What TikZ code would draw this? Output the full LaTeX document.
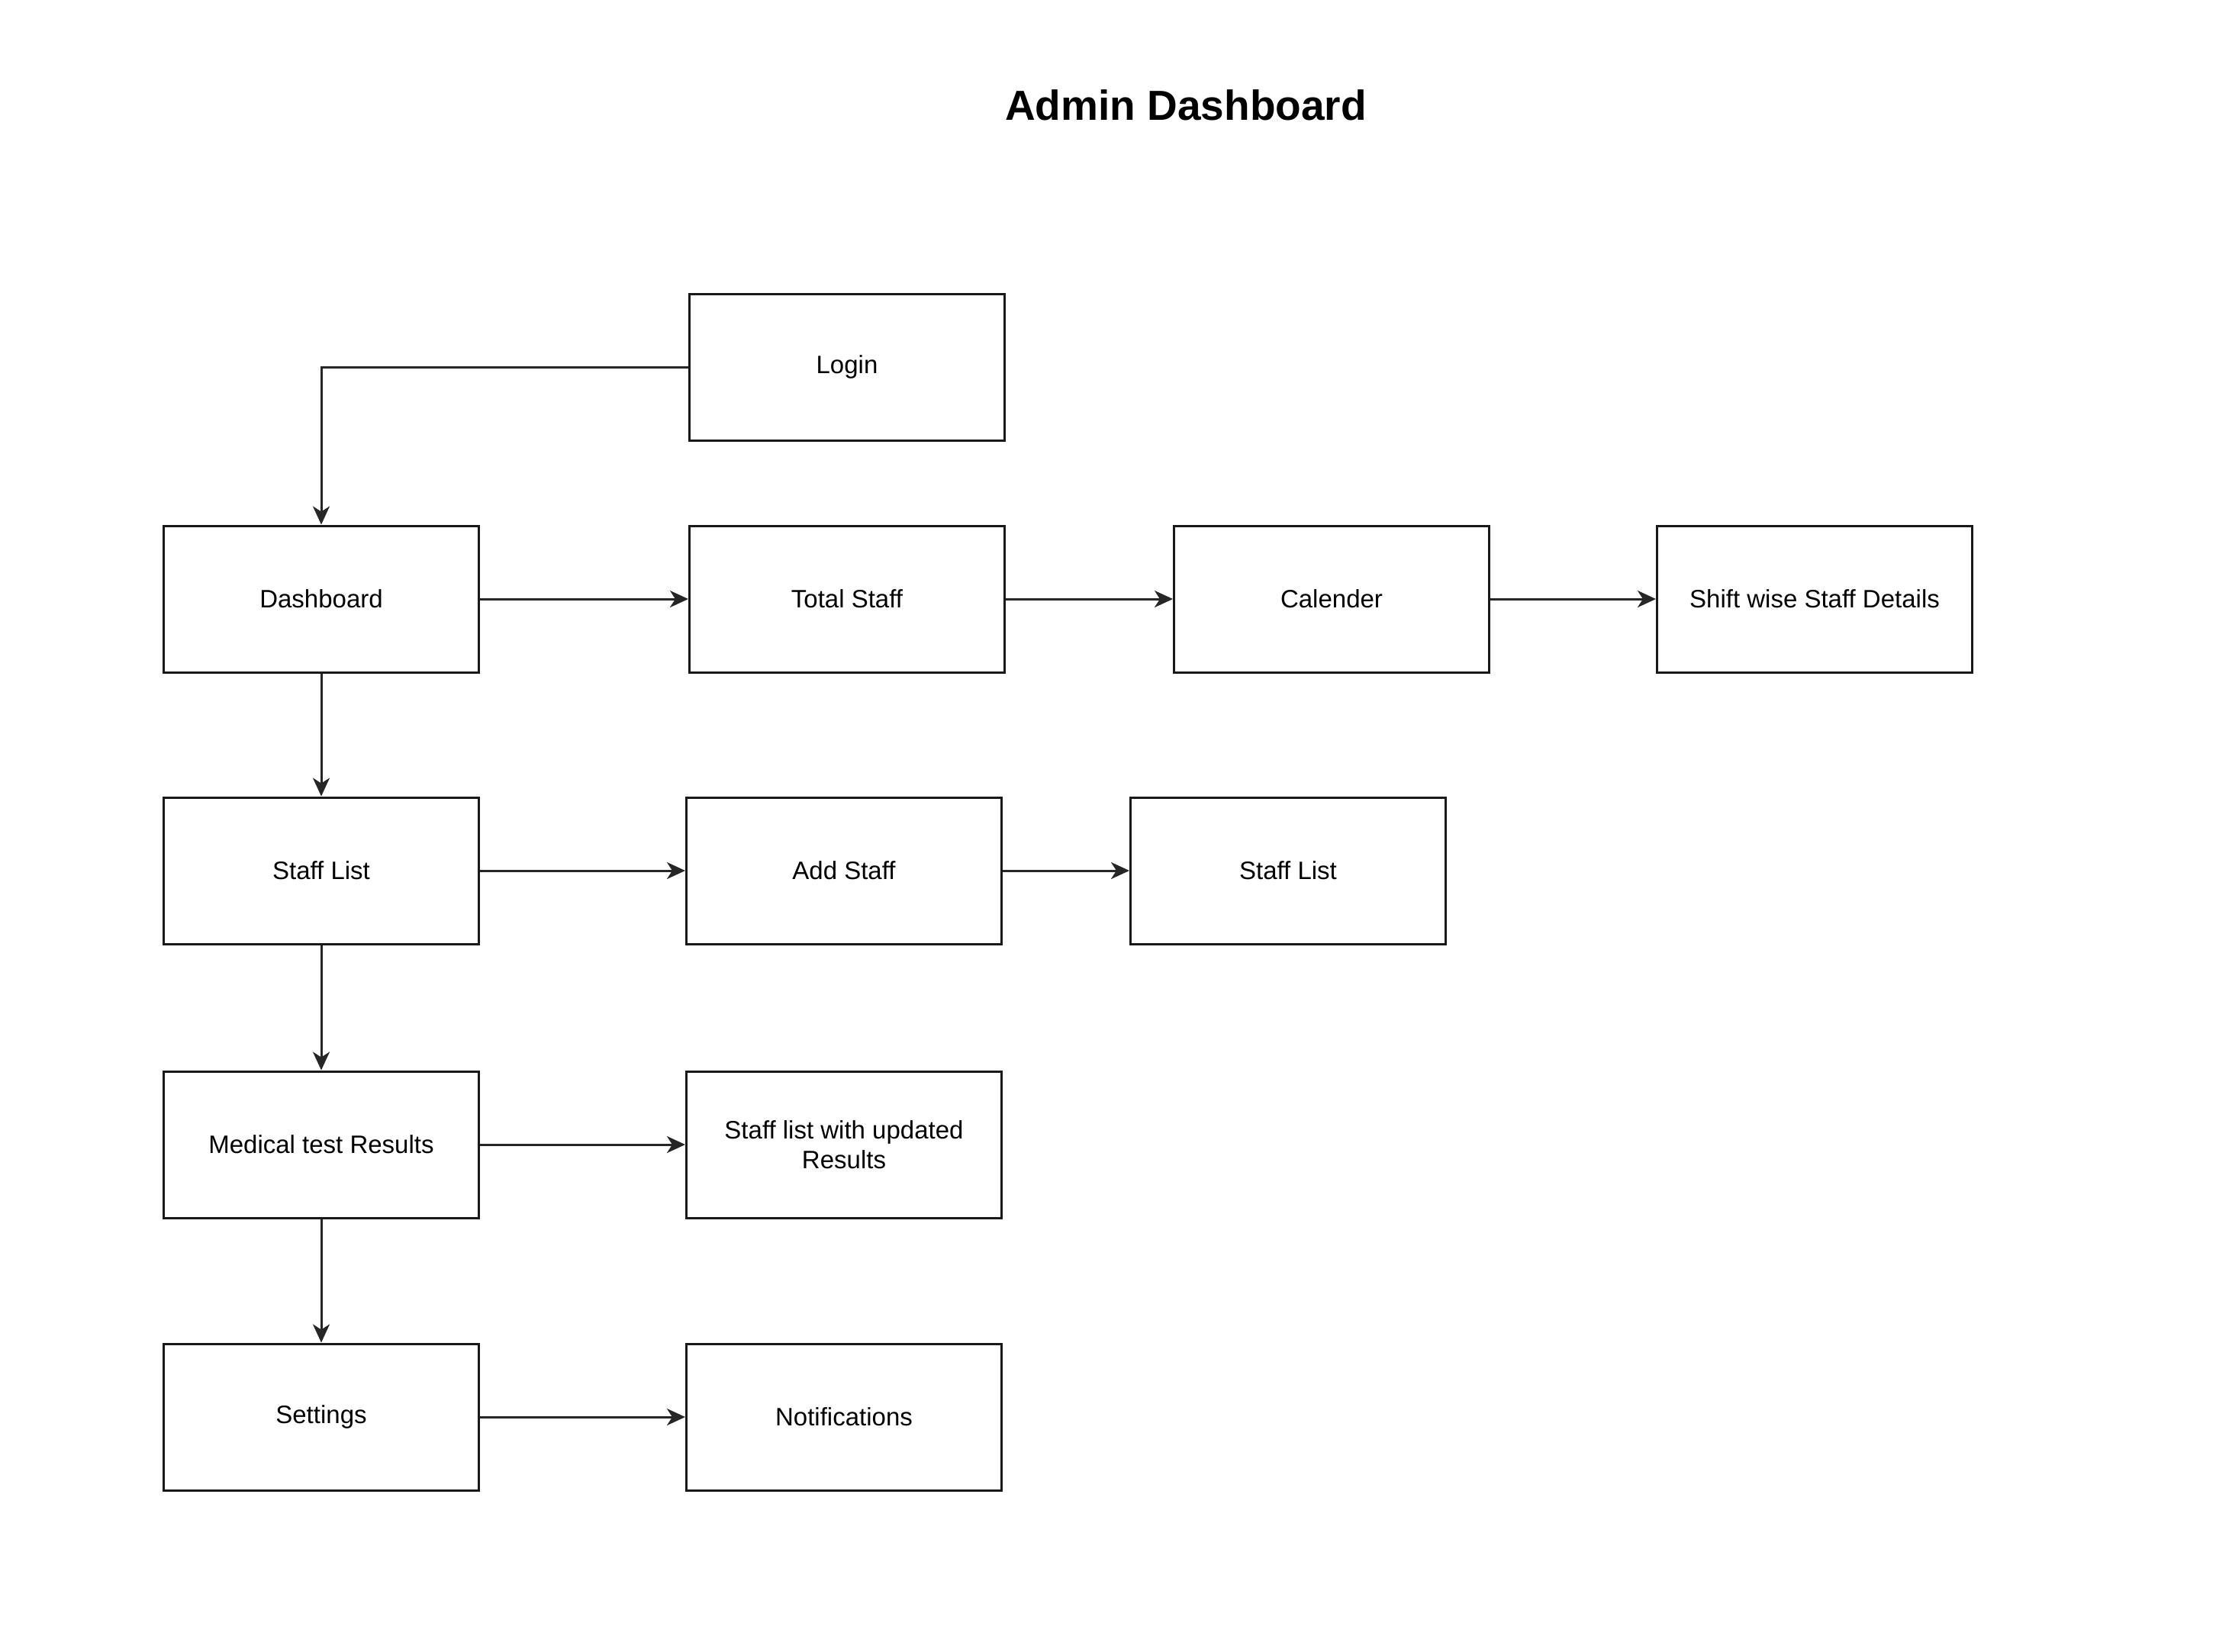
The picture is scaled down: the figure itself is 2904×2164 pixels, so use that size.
\documentclass[tikz,border=0pt]{standalone}
\usepackage{fontspec}
\setmainfont{Liberation Sans}
\usetikzlibrary{arrows.meta}
\begin{document}
\begin{tikzpicture}[x=1pt,y=-1pt,
  box/.style={draw=black!90,line width=3pt,minimum width=413pt,minimum height=192pt,inner sep=0pt,align=center,font=\fontsize{33}{39}\selectfont},
  conn/.style={line width=3pt,draw=black!85,-{Stealth[length=24pt,width=22pt,inset=7pt]}}]
\useasboundingbox (0,0) rectangle (2904,2164);
\node[font=\fontsize{55}{66}\selectfont\bfseries] (title) at (1554,138) {Admin Dashboard};
\node[box] (login) at (1110,481) {Login};
\node[box] (dash) at (421,785) {Dashboard};
\node[box] (total) at (1110,785) {Total Staff};
\node[box] (cal) at (1745,785) {Calender};
\node[box] (shift) at (2378,785) {Shift wise Staff Details};
\node[box] (slist) at (421,1141) {Staff List};
\node[box] (add) at (1106,1141) {Add Staff};
\node[box] (slist2) at (1688,1141) {Staff List};
\node[box] (med) at (421,1500) {Medical test Results};
\node[box] (upd) at (1106,1500) {Staff list with updated\\Results};
\node[box] (set) at (421,1857) {Settings};
\node[box] (notif) at (1106,1857) {Notifications};
\draw[conn] (login.west) -| (dash.north);
\draw[conn] (dash) -- (total);
\draw[conn] (total) -- (cal);
\draw[conn] (cal) -- (shift);
\draw[conn] (dash) -- (slist);
\draw[conn] (slist) -- (add);
\draw[conn] (add) -- (slist2);
\draw[conn] (slist) -- (med);
\draw[conn] (med) -- (upd);
\draw[conn] (med) -- (set);
\draw[conn] (set) -- (notif);
\end{tikzpicture}
\end{document}
